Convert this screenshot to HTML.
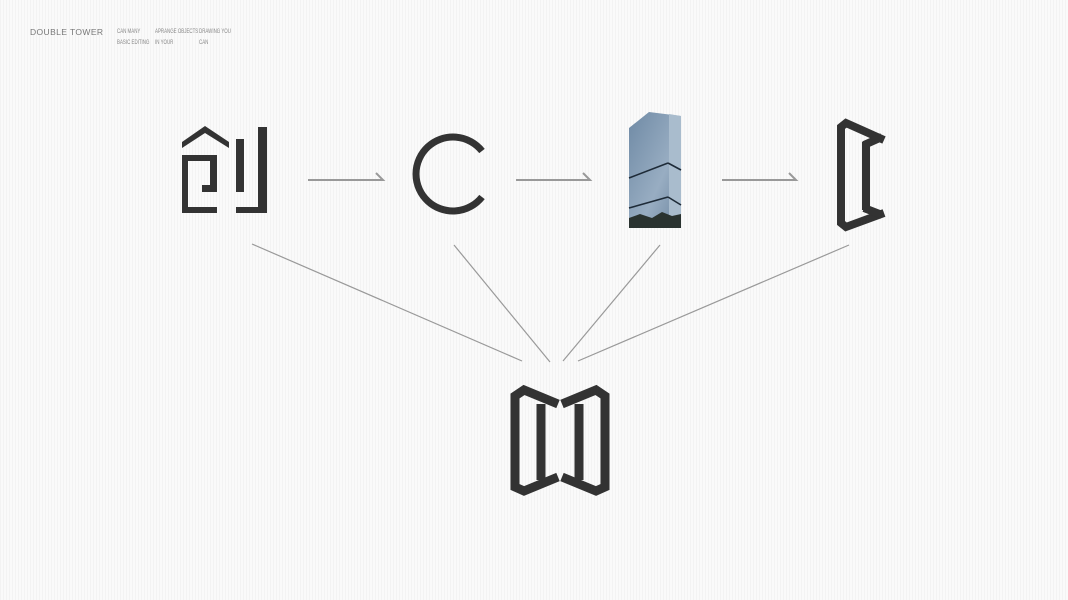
<!DOCTYPE html>
<html><head><meta charset="utf-8"><style>
html,body{margin:0;padding:0}
body{width:1068px;height:600px;overflow:hidden;background:#f8f8f8;background-image:repeating-linear-gradient(90deg,#f3f3f3 0 1px,#fafafa 1px 3px);font-family:"Liberation Sans",sans-serif;position:relative}
.t{position:absolute;color:#888;font-size:6.5px;line-height:11px;transform:scaleX(0.68);transform-origin:left top;white-space:nowrap}
</style></head><body>
<div style="position:absolute;left:30px;top:27px;color:#777;font-size:8.5px;letter-spacing:0.4px">DOUBLE TOWER</div>
<div class="t" style="left:117px;top:26px">CAN MANY<br>BASIC EDITING</div>
<div class="t" style="left:155px;top:26px">APRANGE OBJECTS<br>IN YOUR</div>
<div class="t" style="left:199px;top:26px">DRAWING YOU<br>CAN</div>
<svg width="1068" height="600" style="position:absolute;left:0;top:0">
<defs><linearGradient id="b" x1="0" y1="0" x2="1" y2="1"><stop offset="0" stop-color="#6f8aa5"/><stop offset="0.6" stop-color="#98adc2"/><stop offset="1" stop-color="#6d86a0"/></linearGradient></defs>
<g fill="#333">
<polygon points="182,142 205,126 229,142 229,148 205,133 182,148"/>
<rect x="182" y="155" width="6" height="58"/>
<rect x="182" y="155" width="35" height="6"/>
<rect x="210" y="155" width="7" height="37"/>
<rect x="202" y="185" width="15" height="7"/>
<rect x="182" y="207" width="35" height="6"/>
<rect x="236" y="139" width="8" height="53"/>
<rect x="258" y="127" width="9" height="86"/>
<rect x="236" y="207" width="31" height="6"/>
</g>
<path d="M482,151 A37,37 0 1 0 482,197" fill="none" stroke="#333" stroke-width="7"/>
<g stroke="#999" stroke-width="2" fill="none">
<path d="M308,180 L383,180 L376,173"/>
<path d="M516,180 L590,180 L583,173"/>
<path d="M722,180 L796,180 L789,173"/>
</g>
<polygon points="629,128 649,112 681,116 681,228 629,228" fill="url(#b)"/>
<polygon points="669,114 681,116 681,228 669,228" fill="#a9bccd"/>
<g stroke="#1e2b38" stroke-width="1.6"><line x1="629" y1="178" x2="668" y2="163"/><line x1="668" y1="163" x2="681" y2="170"/><line x1="629" y1="208" x2="668" y2="197"/><line x1="668" y1="197" x2="681" y2="205"/></g>
<path d="M629,228 L629,218 L640,214 L652,218 L662,212 L672,216 L681,214 L681,228Z" fill="#2a3330"/>
<g stroke="#333" stroke-width="8" fill="none" stroke-linejoin="miter">
<path d="M884,140 L846,123 L841,127 L841,223 L846,227 L884,213"/>
<path d="M866,142 L866,210"/>
<path d="M864,145 L882,137"/>
<path d="M864,208 L882,215"/>
</g>
<g stroke="#999" stroke-width="1.2">
<line x1="252" y1="244" x2="522" y2="361"/>
<line x1="454" y1="245" x2="550" y2="362"/>
<line x1="660" y1="245" x2="563" y2="361"/>
<line x1="849" y1="245" x2="578" y2="361"/>
</g>
<g stroke="#333" stroke-width="9" fill="none">
<path d="M558,404 L524,390 L515,396 L515,487 L524,491 L558,477"/>
<path d="M541,404 L541,480"/>
<g transform="translate(1120,0) scale(-1,1)">
<path d="M558,404 L524,390 L515,396 L515,487 L524,491 L558,477"/>
<path d="M541,404 L541,480"/>
</g>
</g>
</svg>
</body></html>
